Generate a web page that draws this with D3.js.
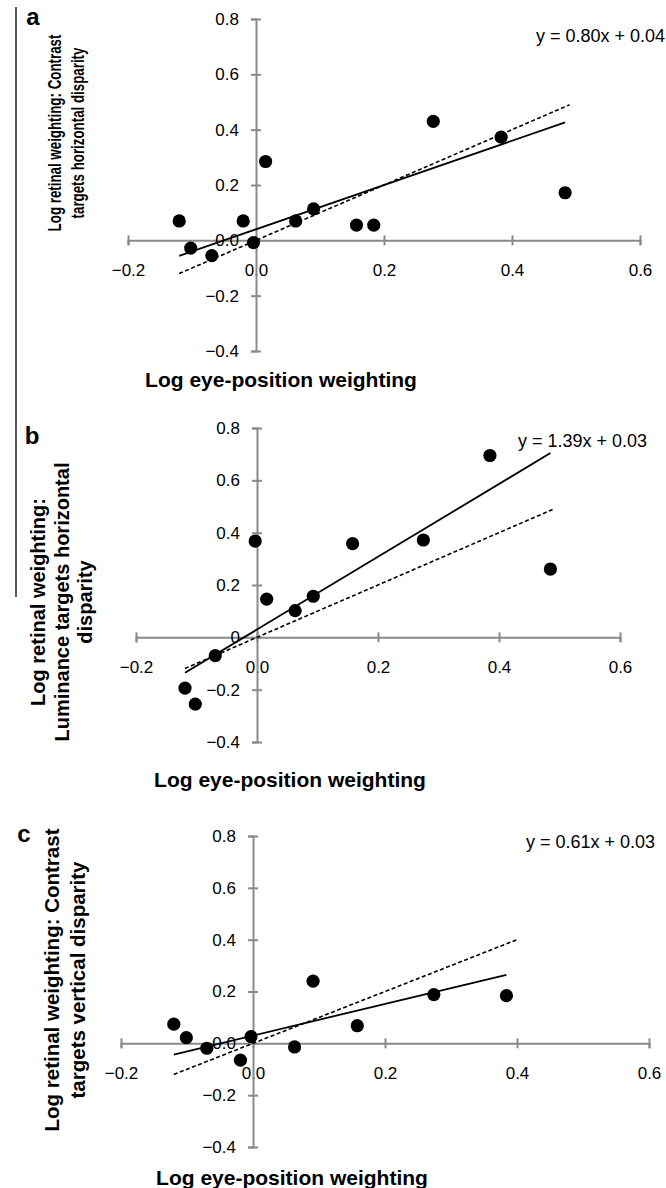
<!DOCTYPE html>
<html>
<head>
<meta charset="utf-8">
<script src="https://cdn.jsdelivr.net/npm/d3@7"></script>
<style>
  body { margin: 0; background: #fff; }
  svg { display: block; font-family: "Liberation Sans", Arial, sans-serif; }
</style>
</head>
<body>
<div id="chart"></div>
<script>
// tick values shared by the three panels
const xTicks = [-0.2, 0, 0.2, 0.4, 0.6];
const yTicks = [-0.4, -0.2, 0, 0.2, 0.4, 0.6, 0.8];

// panel a: contrast targets, horizontal disparity
const aX = [-0.120, -0.102, -0.069, -0.020, -0.004, 0.015, 0.062, 0.090, 0.157, 0.184, 0.277, 0.383, 0.483];
const aY = [0.070, -0.028, -0.055, 0.070, -0.008, 0.285, 0.070, 0.114, 0.055, 0.055, 0.430, 0.373, 0.172];

// panel b: luminance targets, horizontal disparity
const bX = [-0.119, -0.102, -0.069, -0.003, 0.016, 0.063, 0.093, 0.158, 0.275, 0.385, 0.485];
const bY = [-0.194, -0.255, -0.070, 0.368, 0.146, 0.102, 0.157, 0.358, 0.372, 0.695, 0.261];

// panel c: contrast targets, vertical disparity
const cX = [-0.120, -0.101, -0.070, -0.019, -0.003, 0.063, 0.091, 0.158, 0.274, 0.384];
const cY = [0.074, 0.022, -0.019, -0.065, 0.026, -0.014, 0.240, 0.068, 0.188, 0.184];

// fitted lines and the y = x reference
const slopes = [0.80, 1.39, 0.61];
const intercepts = [0.04, 0.03, 0.03];
const identityEnd = [0.49, 0.49, 0.40];
const equations = ["y = 0.80x + 0.04", "y = 1.39x + 0.03", "y = 0.61x + 0.03"];

const letters = ["a", "b", "c"];
const zeroLabels = ["0.0", "0", "0.0"];
const xTitle = "Log eye-position weighting";
const yTitles = [
  ["Log retinal weighting: Contrast", "targets horizontal disparity"],
  ["Log retinal weighting:", "Luminance targets horizontal", "disparity"],
  ["Log retinal weighting: Contrast", "targets vertical disparity"]
];

const width = 666, height = 1188;

const layout = [
  {x: [128, 640], y: [351, 19], letter: [33, 17], eq: [665, 36], xt: [281, 380],
   yt: {cx: [55, 78], cy: 133, size: 18, squeeze: 0.74}},
  {x: [136, 620], y: [742, 428], letter: [32, 436], eq: [647, 441], xt: [290, 780],
   yt: {cx: [38, 62, 85], cy: 602, size: 20, squeeze: 1}},
  {x: [121, 649], y: [1147, 836], letter: [24, 834], eq: [655, 842], xt: [292, 1178],
   yt: {cx: [52, 78], cy: 980, size: 20.5, squeeze: 1}}
];

const series = [[aX, aY], [bX, bY], [cX, cY]];
const axisColor = "#8a8a8a";

const svg = d3.select("#chart").append("svg")
  .attr("width", width)
  .attr("height", height)
  .attr("viewBox", [0, 0, width, height]);

svg.append("rect").attr("width", width).attr("height", height).attr("fill", "#fff");

// thin frame line at the left of panels a and b
svg.append("line")
  .attr("x1", 16).attr("x2", 16)
  .attr("y1", 7).attr("y2", 597)
  .attr("stroke", "#000").attr("stroke-width", 1.3);

series.forEach(([xs, ys], i) => {
  const L = layout[i];
  const x = d3.scaleLinear().domain([-0.2, 0.6]).range(L.x);
  const y = d3.scaleLinear().domain([-0.4, 0.8]).range(L.y);
  const g = svg.append("g");

  // x axis through y = 0
  const gx = g.append("g")
    .attr("transform", `translate(0,${y(0)})`)
    .call(d3.axisBottom(x).tickValues(xTicks).tickSizeOuter(0).tickSize(5)
      .tickFormat(d3.format(".1f")));
  gx.select(".domain").attr("stroke", axisColor).attr("stroke-width", 2);
  gx.selectAll(".tick line").attr("stroke", axisColor).attr("stroke-width", 2)
    .attr("y1", -5).attr("y2", 5);
  gx.selectAll(".tick text")
    .attr("y", 30).attr("dy", "0.35em")
    .attr("font-size", 17).attr("fill", "#000")
    .attr("font-family", "Liberation Sans, Arial, sans-serif");

  // y axis through x = 0
  const gy = g.append("g")
    .attr("transform", `translate(${x(0)},0)`)
    .call(d3.axisLeft(y).tickValues(yTicks).tickSizeOuter(0).tickSize(5).tickPadding(12)
      .tickFormat(d => d === 0 ? zeroLabels[i] : d3.format(".1f")(d)));
  gy.select(".domain").attr("stroke", axisColor).attr("stroke-width", 2);
  gy.selectAll(".tick line").attr("stroke", axisColor).attr("stroke-width", 2)
    .attr("x1", -5).attr("x2", 5);
  gy.selectAll(".tick text")
    .attr("font-size", 17).attr("fill", "#000")
    .attr("font-family", "Liberation Sans, Arial, sans-serif");

  const line = d3.line().x(d => x(d[0])).y(d => y(d[1]));

  // y = x reference, dashed
  g.append("path")
    .datum([[d3.min(xs), d3.min(xs)], [identityEnd[i], identityEnd[i]]])
    .attr("d", line)
    .attr("fill", "none").attr("stroke", "#000")
    .attr("stroke-width", 1.6).attr("stroke-dasharray", "4,2.5");

  // regression line over the data range
  const x0 = d3.min(xs), x1 = d3.max(xs);
  g.append("path")
    .datum([[x0, slopes[i] * x0 + intercepts[i]], [x1, slopes[i] * x1 + intercepts[i]]])
    .attr("d", line)
    .attr("fill", "none").attr("stroke", "#000").attr("stroke-width", 1.8);

  g.append("g")
    .selectAll("circle")
    .data(xs.map((v, k) => [v, ys[k]]))
    .join("circle")
      .attr("cx", d => x(d[0]))
      .attr("cy", d => y(d[1]))
      .attr("r", 6.6)
      .attr("fill", "#000");

  g.append("text")
    .attr("x", L.eq[0]).attr("y", L.eq[1])
    .attr("dy", "0.35em").attr("text-anchor", "end")
    .attr("font-size", 18)
    .text(equations[i]);

  g.append("text")
    .attr("x", L.letter[0]).attr("y", L.letter[1])
    .attr("dy", "0.35em").attr("text-anchor", "middle")
    .attr("font-size", 24).attr("font-weight", "bold")
    .text(letters[i]);

  g.append("text")
    .attr("x", L.xt[0]).attr("y", L.xt[1])
    .attr("dy", "0.35em").attr("text-anchor", "middle")
    .attr("font-size", 21).attr("font-weight", "bold")
    .text(xTitle);

  // rotated y title, squeezed along its length where the panel is
  yTitles[i].forEach((t, k) => {
    g.append("text")
      .attr("transform", `translate(${L.yt.cx[k]},${L.yt.cy}) rotate(-90) scale(${L.yt.squeeze},1)`)
      .attr("dy", "0.35em").attr("text-anchor", "middle")
      .attr("font-size", L.yt.size).attr("font-weight", "bold")
      .text(t);
  });
});
</script>
</body>
</html>
